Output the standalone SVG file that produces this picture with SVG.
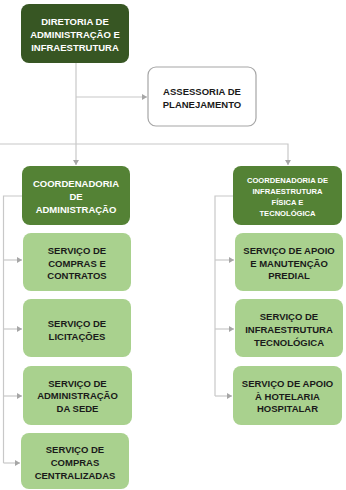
<svg xmlns="http://www.w3.org/2000/svg" width="346" height="490" viewBox="0 0 346 490">
<defs>
<marker id="arr" markerWidth="6" markerHeight="6" refX="5" refY="3" orient="auto" markerUnits="userSpaceOnUse">
<path d="M0,0 L5,3 L0,6 Z" fill="#a6a6a6"/>
</marker>
<style>
.ln{fill:none;stroke:#c8c8c8;stroke-width:1.2}
.dk{fill:#375623}
.md{fill:#548235}
.lt{fill:#a9d18e}
.wh{fill:#ffffff;stroke:#a6a6a6;stroke-width:1.2}
text{font-family:"Liberation Sans",Arial,sans-serif;font-weight:bold;text-anchor:middle}
.tw{fill:#ffffff;font-size:9.5px}
.tb{fill:#1a1a1a;font-size:9.5px}
.ts{fill:#ffffff;font-size:7.6px}
</style>
</defs>
<rect width="346" height="490" fill="#ffffff"/>
<g id="connectors">
<path class="ln" d="M76,63 V165" marker-end="url(#arr)"/>
<path class="ln" d="M76,97 H147" marker-end="url(#arr)"/>
<path class="ln" d="M0,144 H288 V165" marker-end="url(#arr)"/>
<path class="ln" d="M22,196 H3.5 V463"/>
<path class="ln" d="M3.5,260 H22" marker-end="url(#arr)"/>
<path class="ln" d="M3.5,329 H22" marker-end="url(#arr)"/>
<path class="ln" d="M3.5,396 H22" marker-end="url(#arr)"/>
<path class="ln" d="M3.5,463 H20" marker-end="url(#arr)"/>
<path class="ln" d="M233,196 H215 V396"/>
<path class="ln" d="M215,260 H234" marker-end="url(#arr)"/>
<path class="ln" d="M215,329 H234" marker-end="url(#arr)"/>
<path class="ln" d="M215,396 H232" marker-end="url(#arr)"/>
</g>
<g id="diretoria">
<rect class="dk" x="21" y="4" width="108" height="59" rx="8"/>
<text class="tw" x="75" y="24.5">DIRETORIA DE</text>
<text class="tw" x="75" y="37.5">ADMINISTRAÇÃO E</text>
<text class="tw" x="75" y="50.5">INFRAESTRUTURA</text>
</g>
<g id="assessoria">
<rect class="wh" x="148" y="67" width="108" height="59" rx="8"/>
<text class="tb" x="202" y="94.5">ASSESSORIA DE</text>
<text class="tb" x="202" y="107.5">PLANEJAMENTO</text>
</g>
<g id="coord-adm">
<rect class="md" x="22" y="166" width="108" height="59" rx="8"/>
<text class="tw" x="76" y="186.5">COORDENADORIA</text>
<text class="tw" x="76" y="199.5">DE</text>
<text class="tw" x="76" y="212.5">ADMINISTRAÇÃO</text>
</g>
<g id="coord-infra">
<rect class="md" x="233" y="166" width="109" height="59" rx="8"/>
<text class="ts" x="287.5" y="183">COORDENADORIA DE</text>
<text class="ts" x="287.5" y="194">INFRAESTRUTURA</text>
<text class="ts" x="287.5" y="205">FÍSICA E</text>
<text class="ts" x="287.5" y="216">TECNOLÓGICA</text>
</g>
<g id="compras-contratos">
<rect class="lt" x="23" y="233" width="108" height="58" rx="8"/>
<text class="tb" x="77" y="253.5">SERVIÇO DE</text>
<text class="tb" x="77" y="266.5">COMPRAS E</text>
<text class="tb" x="77" y="278.5">CONTRATOS</text>
</g>
<g id="licitacoes">
<rect class="lt" x="23" y="299" width="108" height="58" rx="8"/>
<text class="tb" x="77" y="326.5">SERVIÇO DE</text>
<text class="tb" x="77" y="339.5">LICITAÇÕES</text>
</g>
<g id="adm-sede">
<rect class="lt" x="23" y="366" width="109" height="59" rx="8"/>
<text class="tb" x="77.5" y="386.5">SERVIÇO DE</text>
<text class="tb" x="77.5" y="398.5">ADMINISTRAÇÃO</text>
<text class="tb" x="77.5" y="411.5">DA SEDE</text>
</g>
<g id="compras-centralizadas">
<rect class="lt" x="21" y="433" width="108" height="56" rx="8"/>
<text class="tb" x="75" y="452.5">SERVIÇO DE</text>
<text class="tb" x="75" y="465.5">COMPRAS</text>
<text class="tb" x="75" y="478.5">CENTRALIZADAS</text>
</g>
<g id="apoio-manutencao">
<rect class="lt" x="235" y="233" width="108" height="58" rx="8"/>
<text class="tb" x="289" y="253.5">SERVIÇO DE APOIO</text>
<text class="tb" x="289" y="266.5">E MANUTENÇÃO</text>
<text class="tb" x="289" y="278.5">PREDIAL</text>
</g>
<g id="infra-tecnologica">
<rect class="lt" x="235" y="299" width="108" height="58" rx="8"/>
<text class="tb" x="289" y="319.5">SERVIÇO DE</text>
<text class="tb" x="289" y="332.5">INFRAESTRUTURA</text>
<text class="tb" x="289" y="345.5">TECNOLÓGICA</text>
</g>
<g id="hotelaria">
<rect class="lt" x="233" y="366" width="109" height="59" rx="8"/>
<text class="tb" x="287.5" y="386.5">SERVIÇO DE APOIO</text>
<text class="tb" x="287.5" y="399.5">À HOTELARIA</text>
<text class="tb" x="287.5" y="411.5">HOSPITALAR</text>
</g>
</svg>
